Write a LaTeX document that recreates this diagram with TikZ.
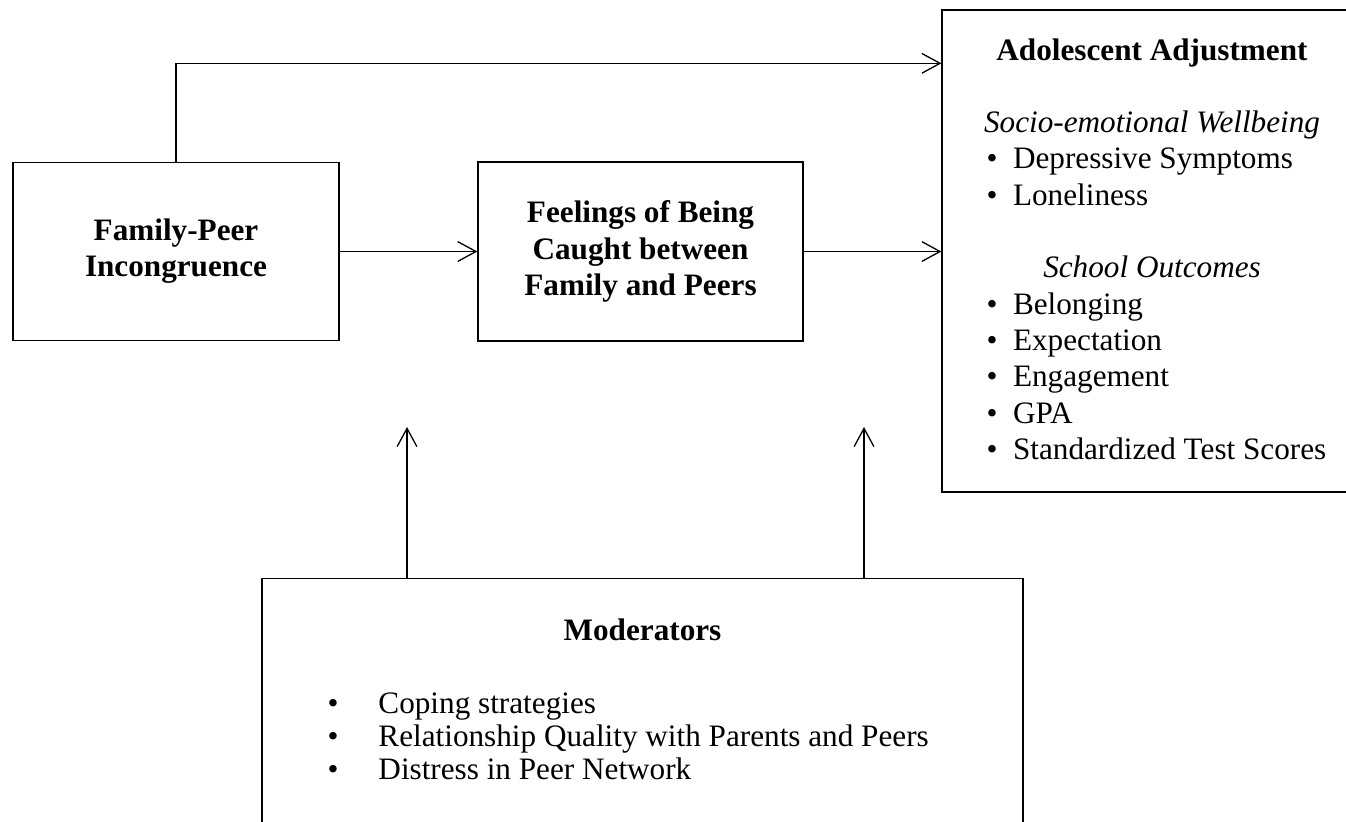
\documentclass[tikz,border=0pt]{standalone}
\usepackage{fontspec}
\setmainfont{Liberation Serif}
\usetikzlibrary{calc,arrows.meta}

\newcommand{\twelve}{\fontsize{12}{13.9}\selectfont}
\tikzset{
  box/.style={draw,line width=0.5pt,inner sep=0pt,align=center,font=\twelve\bfseries},
  arr/.style={line width=0.5pt,-{Straight Barb[length=7pt,width=7.6pt]}},
  item/.style={anchor=base west,inner sep=0pt,font=\twelve},
  head/.style={anchor=base,inner sep=0pt},
}
\newcommand{\bul}[2][10.2pt]{\makebox[#1][l]{\textbullet}#2}

\begin{document}
\begin{tikzpicture}[x=0.3846pt,y=-0.3846pt,font=\twelve]
\useasboundingbox (0,0) rectangle (1346,821);

% the three boxes of the path
\node[box,minimum width=125.4pt,minimum height=68.5pt] (incong) at (176,251.5) {Family-Peer\\Incongruence};
\node[box,minimum width=125pt,minimum height=68.8pt] (caught) at (640.5,251.5) {Feelings of Being\\Caught between\\Family and Peers};
\node[box,minimum width=161.5pt,minimum height=185.4pt] (adjust) at (1152,251) {};

% outcomes
\node[head,font=\twelve\bfseries] (adjtitle) at (1152,60) {Adolescent Adjustment};
\node[head,font=\twelve\itshape] (socio) at (1152,132.6) {Socio-emotional Wellbeing};
\node[item] (depress) at (986,168.9) {\bul{Depressive Symptoms}};
\node[item] (lonely) at (986,205.2) {\bul{Loneliness}};
\node[head,font=\twelve\itshape] (school) at (1152,277.8) {School Outcomes};
\node[item] (belong) at (986,314.1) {\bul{Belonging}};
\node[item] (expect) at (986,350.4) {\bul{Expectation}};
\node[item] (engage) at (986,386.7) {\bul{Engagement}};
\node[item] (gpa) at (986,423) {\bul{GPA}};
\node[item] (scores) at (986,459.3) {\bul{Standardized Test Scores}};

% moderators
\node[box,minimum width=292.7pt,minimum height=116pt] (moder) at (642.5,729) {};
\node[head,font=\twelve\bfseries] (modtitle) at (642.5,640) {Moderators};
\node[item] (coping) at (327,713) {\bul[19.6pt]{Coping strategies}};
\node[item] (quality) at (327,746) {\bul[19.6pt]{Relationship Quality with Parents and Peers}};
\node[item] (distress) at (327,779) {\bul[19.6pt]{Distress in Peer Network}};

% connectors
\draw[arr] (incong.north) |- ($(adjust.north west)+(0,54)$);
\draw[arr] (incong.east) -- (caught.west);
\draw[arr] (caught.east) -- (caught.east -| adjust.west);
\coordinate (tip1) at (407,427);
\coordinate (tip2) at (864,427);
\draw[arr] (tip1 |- moder.north) -- (tip1);
\draw[arr] (tip2 |- moder.north) -- (tip2);
\end{tikzpicture}
\end{document}
